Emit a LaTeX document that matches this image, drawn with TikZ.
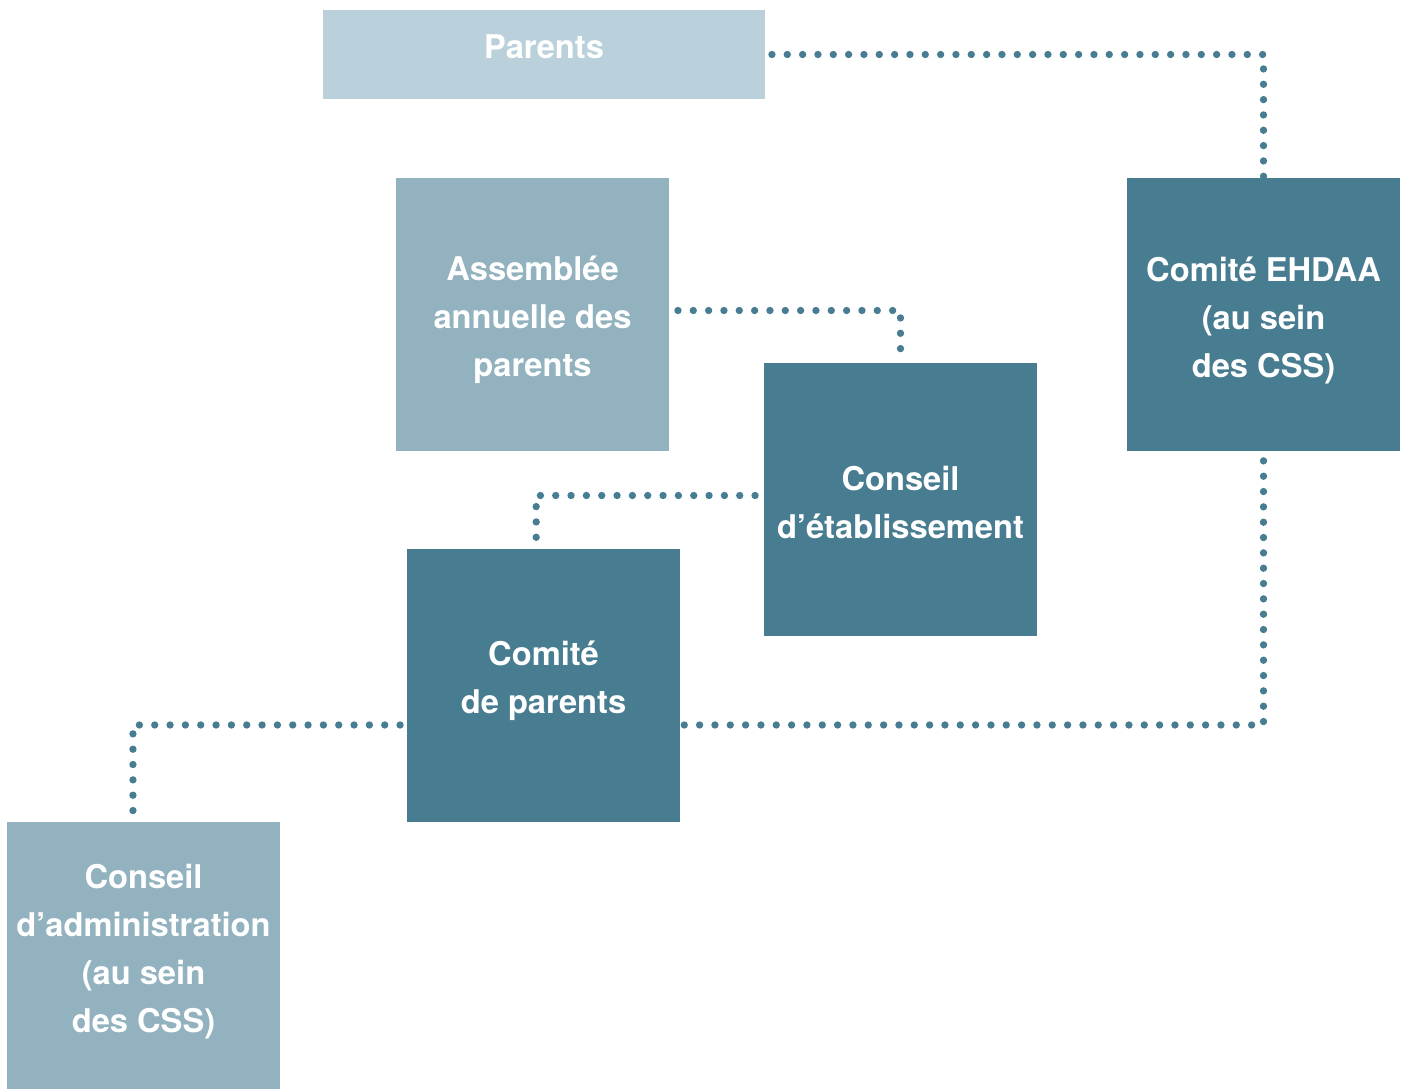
\documentclass[tikz,border=0pt]{standalone}
\usepackage{fontspec}
\setmainfont{TeX Gyre Heros}
\usepackage{tikz}
\definecolor{darkteal}{RGB}{71,124,145}
\definecolor{midteal}{RGB}{145,178,190}
\definecolor{lightteal}{RGB}{186,209,219}

\begin{document}
\begin{tikzpicture}[x=0.75pt, y=-0.75pt,
    every node/.style={inner sep=0pt, text=white, align=center,
      font=\bfseries\fontsize{24.5}{36}\selectfont},
    box/.style={minimum width=204.75pt, minimum height=204.75pt},
    darkbox/.style={box, fill=darkteal},
    midbox/.style={box, fill=midteal},
    dotline/.style={draw=darkteal, line width=5.5pt, line cap=round,
      dash pattern=on 0pt off 11.5pt}]
    \useasboundingbox (0,0) rectangle (1406,1089);

    \node[fill=lightteal, minimum width=331.5pt, minimum height=66.75pt] (parents) at (544, 54.5) {};
    \node at (544, 47) {Parents};
    \node[midbox] (assemblee) at (532.5, 314.5) {};
    \node at (532.5, 320) {Assemblée\\annuelle des\\parents};
    \node[darkbox] (ehdaa) at (1263.5, 314.5) {};
    \node at (1263.5, 320) {Comité EHDAA\\(au sein\\des CSS)};
    \node[darkbox] (etab) at (900.5, 499.5) {};
    \node at (900.5, 502) {Conseil\\d’établissement};
    \node[darkbox] (comite) at (543.5, 685.5) {};
    \node at (543.5, 681) {Comité\\de parents};
    \node[midbox, minimum height=200.25pt] (admin) at (143.5, 955.5) {};
    \node at (143.5, 952) {Conseil\\d’administration\\(au sein\\des CSS)};

    \draw[dotline, shorten <=5pt] (parents.east) -| (ehdaa.north);
    \draw[dotline, shorten <=6.5pt, shorten >=0pt] ([yshift=3pt]assemblee.east) -| (etab.north);
    \draw[dotline, shorten <=6.5pt, shorten >=1pt] ([yshift=3pt]etab.west) -| ([xshift=-5.5pt]comite.north);
    \draw[dotline, shorten <=3pt, shorten >=3.5pt] ([yshift=-29.6pt]comite.east) -| (ehdaa.south);
    \draw[dotline, shorten <=5pt, shorten >=2pt] ([yshift=-29.6pt]comite.west) -| ([xshift=-7.9pt]admin.north);
  \end{tikzpicture}
\end{document}
